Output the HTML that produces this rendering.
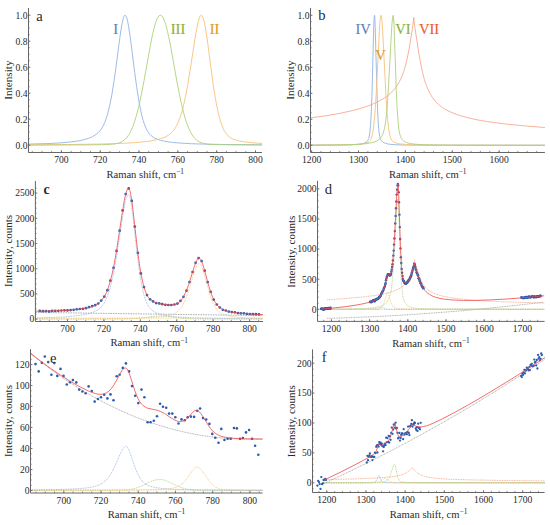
<!DOCTYPE html>
<html><head><meta charset="utf-8"><style>
html,body{margin:0;padding:0;background:#fff;}
body{width:550px;height:525px;overflow:hidden;}
svg{display:block;font-family:"Liberation Serif", serif;}
.t{fill:#2a2a2a;stroke:#2a2a2a;stroke-width:0px;}
.c{stroke-width:0.12px;}
</style></head><body>
<svg width="550" height="525" viewBox="0 0 550 525">
<rect width="550" height="525" fill="#fff"/>
<path d="M28.5,144.1L46.3,143.6L60.3,142.9L71.1,141.9L75.8,141.3L80.0,140.6L83.7,139.7L87.0,138.8L89.8,137.8L92.6,136.6L94.9,135.2L96.8,133.9L98.7,132.2L100.6,130.0L102.0,127.9L103.4,125.4L104.8,122.3L105.7,119.9L107.1,115.7L108.0,112.4L109.9,104.6L111.8,95.1L114.1,80.6L116.0,67.2L119.7,38.5L121.6,26.0L122.6,21.1L123.5,17.6L124.0,16.4L124.4,15.6L124.9,15.2L125.4,15.3L125.8,15.8L126.8,17.9L127.7,21.5L128.6,26.4L130.5,39.1L134.7,72.5L136.6,86.3L138.9,101.2L140.8,110.9L141.7,115.0L143.1,120.3L144.1,123.3L145.5,127.0L146.9,130.0L148.3,132.3L149.7,134.2L151.1,135.6L153.0,137.1L154.8,138.2L157.2,139.2L160.5,140.3L163.7,141.0L167.9,141.8L172.6,142.4L177.8,142.9L190.4,143.7L207.3,144.2L230.2,144.6L262.0,144.8" fill="none" stroke="#93b3e3" stroke-width="0.9" stroke-opacity="1.0"/>
<path d="M28.5,144.8L68.7,144.5L97.3,144.1L118.3,143.5L134.3,142.7L140.8,142.1L146.9,141.5L152.0,140.7L156.7,139.7L160.9,138.6L164.2,137.4L167.0,136.1L169.3,134.5L171.7,132.5L173.6,130.4L175.4,127.7L176.8,125.2L178.2,122.3L179.6,118.7L181.0,114.6L182.5,109.7L184.8,100.0L187.6,85.6L189.9,71.6L195.1,37.9L197.0,27.3L198.4,21.0L199.3,18.0L200.2,16.0L200.7,15.5L201.2,15.2L201.6,15.3L202.1,15.7L203.0,17.6L204.0,20.8L205.4,27.8L207.3,40.0L213.3,85.3L215.2,97.3L216.6,105.1L218.0,111.8L219.9,119.3L221.3,123.8L223.2,128.5L224.1,130.4L225.5,132.7L226.4,134.0L227.8,135.6L229.2,136.8L230.6,137.8L232.1,138.6L233.9,139.4L236.3,140.2L238.6,140.8L244.7,141.9L252.6,142.8L262.0,143.5" fill="none" stroke="#f7c27a" stroke-width="0.9" stroke-opacity="1.0"/>
<path d="M28.5,145.1L87.9,144.9L102.4,144.7L109.9,144.4L115.1,143.9L117.4,143.4L119.3,142.8L121.2,142.0L122.6,141.2L124.0,140.2L125.4,139.0L126.8,137.5L128.2,135.6L129.6,133.4L131.0,130.7L132.4,127.6L133.8,123.9L136.1,116.6L138.5,107.6L141.3,94.8L144.1,80.2L150.2,46.5L152.0,37.1L153.4,30.8L155.3,23.8L156.2,21.0L157.2,18.7L158.1,17.0L159.1,15.8L160.0,15.3L160.5,15.2L160.9,15.3L161.9,15.9L162.8,17.2L163.7,19.0L164.7,21.4L165.6,24.3L167.5,31.4L168.9,37.7L170.8,47.2L176.8,81.0L179.2,93.2L181.5,104.2L183.9,113.7L186.2,121.6L188.5,127.9L190.9,132.8L192.3,135.1L193.7,137.1L195.1,138.7L196.5,140.0L197.9,141.0L199.8,142.1L201.6,142.9L203.5,143.4L207.7,144.2L212.9,144.5L220.8,144.7L262.0,145.0" fill="none" stroke="#afd07a" stroke-width="0.9" stroke-opacity="1.0"/>
<path d="M28.50,8.00 V152.50 H262.00" fill="none" stroke="#666" stroke-width="1"/>
<path d="M32.28,152.50 v-1.6 M41.99,152.50 v-1.6 M51.70,152.50 v-1.6 M61.40,152.50 v-1.6 M71.11,152.50 v-1.6 M80.81,152.50 v-1.6 M90.52,152.50 v-1.6 M100.22,152.50 v-1.6 M109.92,152.50 v-1.6 M119.63,152.50 v-1.6 M129.34,152.50 v-1.6 M139.04,152.50 v-1.6 M148.75,152.50 v-1.6 M158.45,152.50 v-1.6 M168.16,152.50 v-1.6 M177.86,152.50 v-1.6 M187.56,152.50 v-1.6 M197.27,152.50 v-1.6 M206.98,152.50 v-1.6 M216.68,152.50 v-1.6 M226.39,152.50 v-1.6 M236.09,152.50 v-1.6 M245.80,152.50 v-1.6 M255.50,152.50 v-1.6 M61.40,152.50 v-2.4 M100.22,152.50 v-2.4 M139.04,152.50 v-2.4 M177.86,152.50 v-2.4 M216.68,152.50 v-2.4 M255.50,152.50 v-2.4 M28.50,145.20 h1.2 M28.50,138.70 h1.2 M28.50,132.20 h1.2 M28.50,125.70 h1.2 M28.50,119.20 h1.2 M28.50,112.70 h1.2 M28.50,106.20 h1.2 M28.50,99.70 h1.2 M28.50,93.20 h1.2 M28.50,86.70 h1.2 M28.50,80.20 h1.2 M28.50,73.70 h1.2 M28.50,67.20 h1.2 M28.50,60.70 h1.2 M28.50,54.20 h1.2 M28.50,47.70 h1.2 M28.50,41.20 h1.2 M28.50,34.70 h1.2 M28.50,28.20 h1.2 M28.50,21.70 h1.2 M28.50,15.20 h1.2 M28.50,145.20 h2.0 M28.50,119.20 h2.0 M28.50,93.20 h2.0 M28.50,67.20 h2.0 M28.50,41.20 h2.0 M28.50,15.20 h2.0" fill="none" stroke="#666" stroke-width="0.7"/>
<g class="t" font-size="9.6"><text x="61.40" y="163.10" text-anchor="middle">700</text><text x="100.22" y="163.10" text-anchor="middle">720</text><text x="139.04" y="163.10" text-anchor="middle">740</text><text x="177.86" y="163.10" text-anchor="middle">760</text><text x="216.68" y="163.10" text-anchor="middle">780</text><text x="255.50" y="163.10" text-anchor="middle">800</text><text x="27.50" y="148.50" text-anchor="end">0.0</text><text x="27.50" y="122.50" text-anchor="end">0.2</text><text x="27.50" y="96.50" text-anchor="end">0.4</text><text x="27.50" y="70.50" text-anchor="end">0.6</text><text x="27.50" y="44.50" text-anchor="end">0.8</text><text x="27.50" y="18.50" text-anchor="end">1.0</text></g>
<text class="c" x="115.80" y="33.80" font-size="14.6" fill="#5E81B5" stroke="#5E81B5" text-anchor="middle">I</text>
<text class="c" x="178.00" y="33.80" font-size="14.6" fill="#8FB032" stroke="#8FB032" text-anchor="middle">III</text>
<text class="c" x="214.60" y="33.80" font-size="14.6" fill="#E19C24" stroke="#E19C24" text-anchor="middle">II</text>
<text class="t" x="145.20" y="177.60" text-anchor="middle" font-size="10.6">Raman shift, cm<tspan dy="-3.8" font-size="7.4">−1</tspan></text>
<text class="t" transform="translate(11.80,80.10) rotate(-90)" text-anchor="middle" font-size="11.2">Intensity</text>
<text class="t" x="36.30" y="20.60" font-size="14.6">a</text>
<path d="M310.5,117.9L326.3,115.7L340.2,113.3L352.4,110.6L357.9,109.1L362.9,107.6L367.6,106.1L372.0,104.4L376.0,102.6L379.6,100.8L382.9,98.9L386.0,96.8L388.8,94.7L391.5,92.3L393.7,90.0L395.7,87.5L397.4,85.0L399.2,82.2L400.7,79.1L402.1,75.9L403.4,72.5L404.6,68.6L405.9,64.1L407.0,59.5L409.2,48.5L412.3,29.6L413.2,22.8L413.7,17.8L413.9,17.4L414.2,21.9L415.0,28.4L419.0,54.3L421.7,68.4L422.9,73.9L424.3,79.2L425.7,83.7L427.3,87.8L428.9,91.4L430.6,94.6L432.5,97.6L434.5,100.2L436.8,102.8L439.3,105.1L442.3,107.4L445.6,109.5L449.2,111.4L453.1,113.1L457.6,114.8L462.5,116.3L467.8,117.7L473.8,119.1L480.3,120.4L487.4,121.6L503.6,123.8L522.7,125.7L544.9,127.5" fill="none" stroke="#f7a88e" stroke-width="0.9" stroke-opacity="1.0"/>
<path d="M310.5,145.2L343.7,145.0L351.9,144.8L357.6,144.5L361.6,143.9L363.2,143.5L364.6,142.9L365.9,142.2L366.8,141.5L367.6,140.6L368.2,139.6L368.7,138.5L369.1,136.9L369.9,132.3L370.5,125.6L371.0,117.8L372.0,93.4L373.7,29.0L374.1,17.9L374.5,15.3L374.6,15.7L374.8,17.1L375.2,27.3L377.1,96.6L377.6,109.7L378.2,122.4L379.0,131.9L379.8,136.7L380.2,138.4L380.9,139.8L381.6,140.9L382.7,142.0L384.0,142.8L385.4,143.3L387.1,143.8L389.2,144.2L394.6,144.7L403.1,145.0L436.5,145.2L544.9,145.3" fill="none" stroke="#93b3e3" stroke-width="0.9" stroke-opacity="1.0"/>
<path d="M310.5,145.2L343.3,144.9L352.4,144.6L358.8,144.2L363.7,143.6L367.1,142.6L368.4,142.0L369.3,141.3L370.1,140.5L370.7,139.5L371.3,138.1L372.0,136.2L372.9,131.9L373.8,125.2L374.6,117.2L375.4,106.8L376.2,93.8L379.5,28.2L380.2,18.6L380.7,15.8L381.0,15.3L381.3,16.0L381.8,19.1L382.6,29.0L385.9,94.7L386.8,109.8L387.6,119.6L388.7,129.3L389.8,135.2L390.4,137.4L391.2,139.3L392.0,140.6L392.9,141.5L394.0,142.2L395.6,142.9L397.6,143.4L400.1,143.9L406.7,144.5L416.2,144.9L429.7,145.1L450.6,145.2L544.9,145.3" fill="none" stroke="#f7c27a" stroke-width="0.9" stroke-opacity="1.0"/>
<path d="M310.5,145.1L332.7,145.0L347.7,144.7L358.2,144.3L365.9,143.7L369.0,143.2L371.6,142.7L374.0,142.1L376.0,141.3L377.7,140.4L379.1,139.4L380.4,138.3L381.5,136.8L382.4,135.1L383.2,133.1L384.5,128.4L385.6,121.8L386.7,112.1L387.6,100.7L388.5,86.3L391.8,25.7L392.6,17.3L392.9,15.8L393.1,15.4L393.2,15.3L393.5,17.0L394.0,24.4L396.3,90.8L397.1,107.8L397.9,119.8L398.8,128.9L399.3,131.8L399.9,134.6L400.6,136.5L401.4,138.2L402.3,139.6L403.4,140.7L404.8,141.7L406.4,142.4L408.2,143.1L410.4,143.6L416.2,144.3L424.7,144.8L436.8,145.0L456.2,145.2L544.9,145.3" fill="none" stroke="#afd07a" stroke-width="0.9" stroke-opacity="1.0"/>
<path d="M310.50,7.90 V152.50 H544.90" fill="none" stroke="#666" stroke-width="1"/>
<path d="M311.63,152.50 v-1.6 M321.00,152.50 v-1.6 M330.38,152.50 v-1.6 M339.75,152.50 v-1.6 M349.13,152.50 v-1.6 M358.50,152.50 v-1.6 M367.87,152.50 v-1.6 M377.25,152.50 v-1.6 M386.62,152.50 v-1.6 M396.00,152.50 v-1.6 M405.37,152.50 v-1.6 M414.74,152.50 v-1.6 M424.12,152.50 v-1.6 M433.49,152.50 v-1.6 M442.87,152.50 v-1.6 M452.24,152.50 v-1.6 M461.61,152.50 v-1.6 M470.99,152.50 v-1.6 M480.36,152.50 v-1.6 M489.74,152.50 v-1.6 M499.11,152.50 v-1.6 M508.48,152.50 v-1.6 M517.86,152.50 v-1.6 M527.23,152.50 v-1.6 M536.61,152.50 v-1.6 M311.63,152.50 v-2.4 M358.50,152.50 v-2.4 M405.37,152.50 v-2.4 M452.24,152.50 v-2.4 M499.11,152.50 v-2.4 M310.50,145.30 h1.2 M310.50,138.80 h1.2 M310.50,132.30 h1.2 M310.50,125.80 h1.2 M310.50,119.30 h1.2 M310.50,112.80 h1.2 M310.50,106.30 h1.2 M310.50,99.80 h1.2 M310.50,93.30 h1.2 M310.50,86.80 h1.2 M310.50,80.30 h1.2 M310.50,73.80 h1.2 M310.50,67.30 h1.2 M310.50,60.80 h1.2 M310.50,54.30 h1.2 M310.50,47.80 h1.2 M310.50,41.30 h1.2 M310.50,34.80 h1.2 M310.50,28.30 h1.2 M310.50,21.80 h1.2 M310.50,15.30 h1.2 M310.50,145.30 h2.0 M310.50,119.30 h2.0 M310.50,93.30 h2.0 M310.50,67.30 h2.0 M310.50,41.30 h2.0 M310.50,15.30 h2.0" fill="none" stroke="#666" stroke-width="0.7"/>
<g class="t" font-size="9.6"><text x="311.63" y="163.10" text-anchor="middle">1200</text><text x="358.50" y="163.10" text-anchor="middle">1300</text><text x="405.37" y="163.10" text-anchor="middle">1400</text><text x="452.24" y="163.10" text-anchor="middle">1500</text><text x="499.11" y="163.10" text-anchor="middle">1600</text><text x="309.50" y="148.60" text-anchor="end">0.0</text><text x="309.50" y="122.60" text-anchor="end">0.2</text><text x="309.50" y="96.60" text-anchor="end">0.4</text><text x="309.50" y="70.60" text-anchor="end">0.6</text><text x="309.50" y="44.60" text-anchor="end">0.8</text><text x="309.50" y="18.60" text-anchor="end">1.0</text></g>
<text class="c" x="363.20" y="33.80" font-size="14.6" fill="#5E81B5" stroke="#5E81B5" text-anchor="middle">IV</text>
<text class="c" x="380.40" y="59.50" font-size="14.6" fill="#E19C24" stroke="#E19C24" text-anchor="middle">V</text>
<text class="c" x="403.00" y="33.80" font-size="14.6" fill="#8FB032" stroke="#8FB032" text-anchor="middle">VI</text>
<text class="c" x="429.10" y="33.80" font-size="14.6" fill="#F05A2C" stroke="#F05A2C" text-anchor="middle">VII</text>
<text class="t" x="427.70" y="177.90" text-anchor="middle" font-size="10.6">Raman shift, cm<tspan dy="-3.8" font-size="7.4">−1</tspan></text>
<text class="t" transform="translate(294.00,80.10) rotate(-90)" text-anchor="middle" font-size="11.2">Intensity</text>
<text class="t" x="318.20" y="20.30" font-size="14.6">b</text>
<path d="M35.4,312.4L263.0,315.6" fill="none" stroke="#9a9a9a" stroke-width="0.8" stroke-opacity="1.0" stroke-dasharray="1.6,0.9"/>
<path d="M35.4,319.1L113.9,319.1L127.5,319.0L133.0,318.7L137.6,318.4L142.6,317.8L153.5,316.3L157.2,316.0L160.4,315.9L163.6,316.0L167.2,316.3L178.2,317.8L182.7,318.4L191.8,318.9L205.1,319.1L263.0,319.1" fill="none" stroke="#afd07a" stroke-width="0.8" stroke-opacity="1.0" stroke-dasharray="1,0.7"/>
<path d="M35.4,318.1L263.0,318.1" fill="none" stroke="#e2d27a" stroke-width="0.8" stroke-opacity="1.0" stroke-dasharray="1,0.7"/>
<path d="M35.4,318.0L52.5,317.5L65.6,316.8L76.1,315.8L84.4,314.6L87.8,313.9L90.7,313.1L93.2,312.2L95.5,311.2L97.5,310.0L99.5,308.6L101.2,306.9L102.6,305.2L104.1,303.2L105.2,301.2L106.6,298.2L107.8,295.4L110.0,288.4L112.0,280.6L114.0,271.2L116.3,258.3L122.3,218.7L124.3,206.8L125.4,201.4L126.6,197.4L127.1,196.0L127.7,195.0L128.3,194.6L128.5,194.5L128.8,194.7L129.1,195.0L130.0,197.2L130.8,201.2L131.7,206.5L133.1,217.7L136.5,248.3L138.2,262.4L140.2,276.4L141.9,286.1L143.9,294.7L145.1,298.5L146.2,301.5L147.3,304.1L148.5,306.1L149.9,308.1L151.3,309.6L153.0,311.0L155.3,312.3L157.9,313.4L160.7,314.3L164.2,315.2L168.1,315.9L172.7,316.5L177.8,317.0L190.1,317.7L206.9,318.2L230.0,318.6L263.0,318.8" fill="none" stroke="#93b3e3" stroke-width="0.8" stroke-opacity="1.0" stroke-dasharray="1,0.7"/>
<path d="M35.4,319.0L103.2,318.7L123.7,318.5L138.8,318.1L150.8,317.6L159.9,316.9L166.7,316.0L169.3,315.4L171.6,314.8L173.6,314.0L175.3,313.1L176.7,312.2L178.1,311.0L179.5,309.6L180.7,308.2L182.1,306.2L183.2,304.2L185.5,299.4L187.8,293.4L189.8,287.3L194.1,273.0L195.8,268.2L196.6,266.2L197.5,264.8L198.3,263.9L199.2,263.6L200.0,264.0L200.9,265.1L201.8,266.8L202.6,269.1L204.0,273.7L208.9,291.3L210.6,296.7L212.3,301.2L213.7,304.3L215.4,307.4L217.1,309.8L219.1,311.8L221.4,313.4L224.3,314.8L227.4,315.7L231.7,316.5L237.1,317.2L243.9,317.7L252.5,318.1L263.0,318.4" fill="none" stroke="#f7c27a" stroke-width="0.8" stroke-opacity="1.0" stroke-dasharray="1,0.7"/>
<g fill="#2a5db0"><circle cx="39.8" cy="310.9" r="1.35"/><circle cx="42.9" cy="311.2" r="1.35"/><circle cx="46.0" cy="311.1" r="1.35"/><circle cx="49.1" cy="311.4" r="1.35"/><circle cx="52.1" cy="310.9" r="1.35"/><circle cx="55.2" cy="310.9" r="1.35"/><circle cx="58.3" cy="310.8" r="1.35"/><circle cx="61.4" cy="310.5" r="1.35"/><circle cx="64.4" cy="310.3" r="1.35"/><circle cx="67.5" cy="310.4" r="1.35"/><circle cx="70.6" cy="310.1" r="1.35"/><circle cx="73.7" cy="309.8" r="1.35"/><circle cx="76.7" cy="309.3" r="1.35"/><circle cx="79.8" cy="309.0" r="1.35"/><circle cx="82.9" cy="308.8" r="1.35"/><circle cx="85.9" cy="308.2" r="1.35"/><circle cx="89.0" cy="307.2" r="1.35"/><circle cx="92.1" cy="306.2" r="1.35"/><circle cx="95.1" cy="305.2" r="1.35"/><circle cx="98.2" cy="303.5" r="1.35"/><circle cx="101.2" cy="300.6" r="1.35"/><circle cx="104.3" cy="296.7" r="1.35"/><circle cx="107.4" cy="290.2" r="1.35"/><circle cx="110.4" cy="280.7" r="1.35"/><circle cx="113.5" cy="267.8" r="1.35"/><circle cx="116.5" cy="250.9" r="1.35"/><circle cx="119.6" cy="230.7" r="1.35"/><circle cx="122.6" cy="210.4" r="1.35"/><circle cx="125.7" cy="194.1" r="1.35"/><circle cx="128.7" cy="188.4" r="1.35"/><circle cx="131.8" cy="200.9" r="1.35"/><circle cx="134.8" cy="226.6" r="1.35"/><circle cx="137.9" cy="252.8" r="1.35"/><circle cx="140.9" cy="273.4" r="1.35"/><circle cx="144.0" cy="287.1" r="1.35"/><circle cx="147.0" cy="295.1" r="1.35"/><circle cx="150.1" cy="299.3" r="1.35"/><circle cx="153.1" cy="301.4" r="1.35"/><circle cx="156.1" cy="303.1" r="1.35"/><circle cx="159.2" cy="303.4" r="1.35"/><circle cx="162.2" cy="304.2" r="1.35"/><circle cx="165.3" cy="304.8" r="1.35"/><circle cx="168.3" cy="305.0" r="1.35"/><circle cx="171.3" cy="305.0" r="1.35"/><circle cx="174.4" cy="304.5" r="1.35"/><circle cx="177.4" cy="303.6" r="1.35"/><circle cx="180.4" cy="300.9" r="1.35"/><circle cx="183.5" cy="296.8" r="1.35"/><circle cx="186.5" cy="290.7" r="1.35"/><circle cx="189.5" cy="282.1" r="1.35"/><circle cx="192.6" cy="272.0" r="1.35"/><circle cx="195.6" cy="262.8" r="1.35"/><circle cx="198.6" cy="258.1" r="1.35"/><circle cx="201.6" cy="261.1" r="1.35"/><circle cx="204.7" cy="270.7" r="1.35"/><circle cx="207.7" cy="282.1" r="1.35"/><circle cx="210.7" cy="291.8" r="1.35"/><circle cx="213.7" cy="299.6" r="1.35"/><circle cx="216.8" cy="304.5" r="1.35"/><circle cx="219.8" cy="307.5" r="1.35"/><circle cx="222.8" cy="309.8" r="1.35"/><circle cx="225.8" cy="310.5" r="1.35"/><circle cx="228.8" cy="311.6" r="1.35"/><circle cx="231.8" cy="312.1" r="1.35"/><circle cx="234.9" cy="312.3" r="1.35"/><circle cx="237.9" cy="313.1" r="1.35"/><circle cx="240.9" cy="313.3" r="1.35"/><circle cx="243.9" cy="313.3" r="1.35"/><circle cx="246.9" cy="313.9" r="1.35"/><circle cx="249.9" cy="314.0" r="1.35"/><circle cx="252.9" cy="314.1" r="1.35"/><circle cx="255.9" cy="314.2" r="1.35"/><circle cx="258.9" cy="314.3" r="1.35"/></g>
<path d="M35.4,311.2L52.2,310.9L65.3,310.4L75.8,309.5L84.1,308.4L87.5,307.7L90.7,306.9L93.2,306.0L95.5,305.0L97.5,303.9L99.5,302.4L101.2,300.8L102.6,299.1L104.1,297.1L105.2,295.1L106.6,292.1L107.8,289.3L110.0,282.3L112.0,274.5L114.0,265.1L116.3,252.3L122.3,212.6L124.3,200.7L125.4,195.2L126.6,191.2L127.1,189.8L127.7,188.8L128.3,188.3L128.5,188.3L128.8,188.4L129.1,188.7L130.0,190.9L130.8,194.8L131.7,200.1L133.1,211.2L137.9,253.3L139.9,267.5L141.7,277.2L143.4,284.8L144.2,287.9L145.4,291.3L146.5,294.0L147.6,296.2L148.8,297.9L150.2,299.5L151.3,300.5L152.8,301.4L154.5,302.2L156.2,302.8L161.3,304.0L167.6,304.9L171.3,305.0L174.4,304.6L175.8,304.2L177.0,303.7L179.3,302.1L181.0,300.4L182.4,298.5L184.1,295.7L185.5,292.7L186.9,289.3L188.7,284.6L193.8,268.1L195.5,263.2L196.6,260.6L197.5,259.2L198.3,258.4L199.2,258.1L200.0,258.5L200.9,259.7L201.8,261.4L202.6,263.8L204.0,268.5L208.9,286.3L210.6,291.7L212.3,296.2L213.7,299.4L215.4,302.5L217.1,305.0L219.1,307.1L221.4,308.8L224.3,310.2L227.4,311.2L231.7,312.1L237.4,312.9L244.2,313.6L252.7,314.1L263.0,314.6" fill="none" stroke="#f04848" stroke-width="1.0" stroke-opacity="0.8"/>
<path d="M35.40,181.00 V321.50 H263.00" fill="none" stroke="#666" stroke-width="1"/>
<path d="M40.19,321.50 v-1.6 M49.29,321.50 v-1.6 M58.39,321.50 v-1.6 M67.50,321.50 v-1.6 M76.61,321.50 v-1.6 M85.71,321.50 v-1.6 M94.81,321.50 v-1.6 M103.92,321.50 v-1.6 M113.03,321.50 v-1.6 M122.13,321.50 v-1.6 M131.24,321.50 v-1.6 M140.34,321.50 v-1.6 M149.44,321.50 v-1.6 M158.55,321.50 v-1.6 M167.66,321.50 v-1.6 M176.76,321.50 v-1.6 M185.87,321.50 v-1.6 M194.97,321.50 v-1.6 M204.07,321.50 v-1.6 M213.18,321.50 v-1.6 M222.28,321.50 v-1.6 M231.39,321.50 v-1.6 M240.50,321.50 v-1.6 M249.60,321.50 v-1.6 M258.70,321.50 v-1.6 M67.50,321.50 v-2.4 M103.92,321.50 v-2.4 M140.34,321.50 v-2.4 M176.76,321.50 v-2.4 M213.18,321.50 v-2.4 M249.60,321.50 v-2.4 M35.40,319.10 h1.2 M35.40,314.06 h1.2 M35.40,309.02 h1.2 M35.40,303.98 h1.2 M35.40,298.94 h1.2 M35.40,293.90 h1.2 M35.40,288.86 h1.2 M35.40,283.82 h1.2 M35.40,278.78 h1.2 M35.40,273.74 h1.2 M35.40,268.70 h1.2 M35.40,263.66 h1.2 M35.40,258.62 h1.2 M35.40,253.58 h1.2 M35.40,248.54 h1.2 M35.40,243.50 h1.2 M35.40,238.46 h1.2 M35.40,233.42 h1.2 M35.40,228.38 h1.2 M35.40,223.34 h1.2 M35.40,218.30 h1.2 M35.40,213.26 h1.2 M35.40,208.22 h1.2 M35.40,203.18 h1.2 M35.40,198.14 h1.2 M35.40,193.10 h1.2 M35.40,188.06 h1.2 M35.40,319.10 h2.0 M35.40,293.90 h2.0 M35.40,268.70 h2.0 M35.40,243.50 h2.0 M35.40,218.30 h2.0 M35.40,193.10 h2.0" fill="none" stroke="#666" stroke-width="0.7"/>
<g class="t" font-size="9.6"><text x="67.50" y="332.10" text-anchor="middle">700</text><text x="103.92" y="332.10" text-anchor="middle">720</text><text x="140.34" y="332.10" text-anchor="middle">740</text><text x="176.76" y="332.10" text-anchor="middle">760</text><text x="213.18" y="332.10" text-anchor="middle">780</text><text x="249.60" y="332.10" text-anchor="middle">800</text><text x="34.40" y="322.40" text-anchor="end">0</text><text x="34.40" y="297.20" text-anchor="end">500</text><text x="34.40" y="272.00" text-anchor="end">1000</text><text x="34.40" y="246.80" text-anchor="end">1500</text><text x="34.40" y="221.60" text-anchor="end">2000</text><text x="34.40" y="196.40" text-anchor="end">2500</text></g>
<text class="t" x="149.20" y="346.30" text-anchor="middle" font-size="10.6">Raman shift, cm<tspan dy="-3.8" font-size="7.4">−1</tspan></text>
<text class="t" transform="translate(11.80,250.90) rotate(-90)" text-anchor="middle" font-size="11.0">Intensity, counts</text>
<text class="t" x="43.60" y="194.00" font-size="13.8" font-weight="bold">c</text>
<path d="M327.2,318.4L354.2,317.5L381.6,316.3L408.9,314.7L435.9,312.8L462.9,310.7L489.8,308.1L516.8,305.3L544.2,302.1" fill="none" stroke="#9a9a9a" stroke-width="0.8" stroke-opacity="1.0" stroke-dasharray="1,0.7"/>
<path d="M321.1,309.3L544.2,309.3" fill="none" stroke="#e2d27a" stroke-width="0.8" stroke-opacity="1.0" stroke-dasharray="1,0.7"/>
<path d="M327.2,309.3L377.3,309.2L378.7,309.1L379.6,308.9L380.5,308.4L381.8,307.4L382.3,307.2L382.9,307.3L384.5,308.5L385.5,309.0L386.8,309.2L389.4,309.3L544.2,309.3" fill="none" stroke="#93b3e3" stroke-width="0.8" stroke-opacity="1.0" stroke-dasharray="1,0.7"/>
<path d="M327.2,309.3L354.3,309.2L367.4,309.0L374.7,308.7L377.1,308.4L379.0,308.0L380.3,307.5L381.5,306.8L382.3,306.0L383.2,304.7L383.9,303.2L384.7,301.2L386.7,293.9L387.1,292.9L387.6,292.6L388.0,292.9L388.4,293.9L390.2,300.2L391.0,302.8L391.8,304.4L392.5,305.6L393.6,306.8L394.9,307.6L396.8,308.2L399.6,308.6L407.4,309.0L422.7,309.2L544.2,309.3" fill="none" stroke="#f7c27a" stroke-width="0.8" stroke-opacity="1.0" stroke-dasharray="1,0.7"/>
<path d="M327.2,309.1L345.9,308.9L358.5,308.7L367.4,308.3L374.0,307.7L378.9,306.7L380.9,306.1L382.6,305.4L384.2,304.5L385.5,303.5L386.7,302.4L387.7,301.0L388.6,299.4L389.3,297.6L390.5,293.5L391.5,287.8L392.5,279.3L393.3,269.2L394.1,258.5L396.8,207.8L397.4,201.0L397.7,199.2L398.0,198.6L398.3,200.4L398.7,208.9L400.7,269.0L401.3,280.2L401.9,288.1L402.8,295.4L403.2,297.8L403.8,300.0L404.5,301.9L405.2,303.2L406.2,304.5L407.4,305.6L408.7,306.4L410.1,307.0L411.9,307.5L413.9,308.0L419.3,308.5L427.4,308.9L457.5,309.2L544.2,309.3" fill="none" stroke="#afd07a" stroke-width="0.8" stroke-opacity="1.0" stroke-dasharray="1,0.7"/>
<path d="M327.2,299.7L340.9,298.9L353.0,297.9L363.7,296.9L372.8,295.8L380.6,294.5L387.1,293.1L392.6,291.5L397.1,289.7L400.4,288.0L403.2,285.9L405.6,283.4L407.6,280.6L409.3,277.1L410.8,273.0L413.0,265.6L413.9,262.2L414.3,260.0L414.5,259.5L414.9,262.0L415.6,264.4L419.1,275.2L421.2,280.6L423.4,284.5L424.7,286.4L426.0,287.9L427.5,289.4L429.1,290.6L430.8,291.7L432.8,292.8L434.9,293.7L437.3,294.6L443.4,296.3L451.0,297.7L460.3,298.9L471.6,300.0L485.3,300.9L501.8,301.7L521.4,302.4L544.2,303.1" fill="none" stroke="#f7a88e" stroke-width="0.9" stroke-opacity="1.0" stroke-dasharray="1,0.7"/>
<g fill="#2a5db0"><circle cx="321.1" cy="308.9" r="1.2"/><circle cx="321.5" cy="308.5" r="1.2"/><circle cx="321.8" cy="308.6" r="1.2"/><circle cx="322.2" cy="308.8" r="1.2"/><circle cx="322.6" cy="309.2" r="1.2"/><circle cx="323.0" cy="309.2" r="1.2"/><circle cx="323.4" cy="309.6" r="1.2"/><circle cx="323.8" cy="308.6" r="1.2"/><circle cx="324.1" cy="309.5" r="1.2"/><circle cx="324.5" cy="308.5" r="1.2"/><circle cx="324.9" cy="308.1" r="1.2"/><circle cx="325.3" cy="309.1" r="1.2"/><circle cx="325.7" cy="308.9" r="1.2"/><circle cx="326.1" cy="308.8" r="1.2"/><circle cx="326.4" cy="308.3" r="1.2"/><circle cx="326.8" cy="308.9" r="1.2"/><circle cx="327.2" cy="308.6" r="1.2"/><circle cx="327.6" cy="308.7" r="1.2"/><circle cx="328.0" cy="308.6" r="1.2"/><circle cx="328.3" cy="308.0" r="1.2"/><circle cx="328.7" cy="308.8" r="1.2"/><circle cx="329.1" cy="308.4" r="1.2"/><circle cx="329.5" cy="308.3" r="1.2"/><circle cx="329.9" cy="308.0" r="1.2"/><circle cx="330.3" cy="308.7" r="1.2"/><circle cx="330.6" cy="307.8" r="1.2"/><circle cx="370.0" cy="302.0" r="1.2"/><circle cx="370.4" cy="301.7" r="1.2"/><circle cx="370.7" cy="301.8" r="1.2"/><circle cx="371.1" cy="302.3" r="1.2"/><circle cx="371.5" cy="301.9" r="1.2"/><circle cx="371.9" cy="301.2" r="1.2"/><circle cx="372.3" cy="301.3" r="1.2"/><circle cx="372.7" cy="301.2" r="1.2"/><circle cx="373.0" cy="300.4" r="1.2"/><circle cx="373.4" cy="300.1" r="1.2"/><circle cx="373.8" cy="300.8" r="1.2"/><circle cx="374.2" cy="299.9" r="1.2"/><circle cx="374.6" cy="301.2" r="1.2"/><circle cx="374.9" cy="301.0" r="1.2"/><circle cx="375.3" cy="299.8" r="1.2"/><circle cx="375.7" cy="300.0" r="1.2"/><circle cx="376.1" cy="299.5" r="1.2"/><circle cx="376.5" cy="299.3" r="1.2"/><circle cx="376.9" cy="299.3" r="1.2"/><circle cx="377.2" cy="298.8" r="1.2"/><circle cx="377.6" cy="298.8" r="1.2"/><circle cx="378.0" cy="299.1" r="1.2"/><circle cx="378.4" cy="298.2" r="1.2"/><circle cx="378.8" cy="297.9" r="1.2"/><circle cx="379.1" cy="296.9" r="1.2"/><circle cx="379.5" cy="297.6" r="1.2"/><circle cx="379.9" cy="296.6" r="1.2"/><circle cx="380.3" cy="296.2" r="1.2"/><circle cx="380.7" cy="295.4" r="1.2"/><circle cx="381.1" cy="294.0" r="1.2"/><circle cx="381.4" cy="293.7" r="1.2"/><circle cx="381.8" cy="293.1" r="1.2"/><circle cx="382.2" cy="292.1" r="1.2"/><circle cx="382.6" cy="291.2" r="1.2"/><circle cx="383.0" cy="291.1" r="1.2"/><circle cx="383.4" cy="290.1" r="1.2"/><circle cx="383.7" cy="288.7" r="1.2"/><circle cx="384.1" cy="288.0" r="1.2"/><circle cx="384.5" cy="287.1" r="1.2"/><circle cx="384.9" cy="285.9" r="1.2"/><circle cx="385.3" cy="284.2" r="1.2"/><circle cx="385.6" cy="283.0" r="1.2"/><circle cx="386.0" cy="280.2" r="1.2"/><circle cx="386.4" cy="278.6" r="1.2"/><circle cx="386.8" cy="277.0" r="1.2"/><circle cx="387.2" cy="276.1" r="1.2"/><circle cx="387.6" cy="275.0" r="1.2"/><circle cx="387.9" cy="274.1" r="1.2"/><circle cx="388.3" cy="274.2" r="1.2"/><circle cx="388.7" cy="274.7" r="1.2"/><circle cx="389.1" cy="274.7" r="1.2"/><circle cx="389.5" cy="274.8" r="1.2"/><circle cx="389.8" cy="275.5" r="1.2"/><circle cx="390.2" cy="275.2" r="1.2"/><circle cx="390.6" cy="274.7" r="1.2"/><circle cx="391.0" cy="273.8" r="1.2"/><circle cx="391.4" cy="271.5" r="1.2"/><circle cx="391.8" cy="269.6" r="1.2"/><circle cx="392.1" cy="267.0" r="1.2"/><circle cx="392.5" cy="264.3" r="1.2"/><circle cx="392.9" cy="260.4" r="1.2"/><circle cx="393.3" cy="255.6" r="1.2"/><circle cx="393.7" cy="250.6" r="1.2"/><circle cx="394.0" cy="244.6" r="1.2"/><circle cx="394.4" cy="238.5" r="1.2"/><circle cx="394.8" cy="231.1" r="1.2"/><circle cx="395.2" cy="223.4" r="1.2"/><circle cx="395.6" cy="215.9" r="1.2"/><circle cx="396.0" cy="208.2" r="1.2"/><circle cx="396.3" cy="201.5" r="1.2"/><circle cx="396.7" cy="194.6" r="1.2"/><circle cx="397.1" cy="189.6" r="1.2"/><circle cx="397.5" cy="185.4" r="1.2"/><circle cx="397.9" cy="184.0" r="1.2"/><circle cx="398.2" cy="185.4" r="1.2"/><circle cx="398.6" cy="192.3" r="1.2"/><circle cx="399.0" cy="202.3" r="1.2"/><circle cx="399.4" cy="214.7" r="1.2"/><circle cx="399.8" cy="227.1" r="1.2"/><circle cx="400.2" cy="239.0" r="1.2"/><circle cx="400.5" cy="248.4" r="1.2"/><circle cx="400.9" cy="257.3" r="1.2"/><circle cx="401.3" cy="263.0" r="1.2"/><circle cx="401.7" cy="268.9" r="1.2"/><circle cx="402.1" cy="272.8" r="1.2"/><circle cx="402.5" cy="276.0" r="1.2"/><circle cx="402.8" cy="278.7" r="1.2"/><circle cx="403.2" cy="280.3" r="1.2"/><circle cx="403.6" cy="281.0" r="1.2"/><circle cx="404.0" cy="281.3" r="1.2"/><circle cx="404.4" cy="282.8" r="1.2"/><circle cx="404.7" cy="283.1" r="1.2"/><circle cx="405.1" cy="283.1" r="1.2"/><circle cx="405.5" cy="283.8" r="1.2"/><circle cx="405.9" cy="283.8" r="1.2"/><circle cx="406.3" cy="283.3" r="1.2"/><circle cx="406.7" cy="283.0" r="1.2"/><circle cx="407.0" cy="282.8" r="1.2"/><circle cx="407.4" cy="281.8" r="1.2"/><circle cx="407.8" cy="282.0" r="1.2"/><circle cx="408.2" cy="281.3" r="1.2"/><circle cx="408.6" cy="280.3" r="1.2"/><circle cx="408.9" cy="279.7" r="1.2"/><circle cx="409.3" cy="280.1" r="1.2"/><circle cx="409.7" cy="278.9" r="1.2"/><circle cx="410.1" cy="277.5" r="1.2"/><circle cx="410.5" cy="277.4" r="1.2"/><circle cx="410.9" cy="276.2" r="1.2"/><circle cx="411.2" cy="275.3" r="1.2"/><circle cx="411.6" cy="274.1" r="1.2"/><circle cx="412.0" cy="272.8" r="1.2"/><circle cx="412.4" cy="271.1" r="1.2"/><circle cx="412.8" cy="269.4" r="1.2"/><circle cx="413.1" cy="268.0" r="1.2"/><circle cx="413.5" cy="267.1" r="1.2"/><circle cx="413.9" cy="266.3" r="1.2"/><circle cx="414.3" cy="263.6" r="1.2"/><circle cx="414.7" cy="264.5" r="1.2"/><circle cx="415.1" cy="266.1" r="1.2"/><circle cx="415.4" cy="267.7" r="1.2"/><circle cx="415.8" cy="269.6" r="1.2"/><circle cx="416.2" cy="270.0" r="1.2"/><circle cx="416.6" cy="272.2" r="1.2"/><circle cx="417.0" cy="272.9" r="1.2"/><circle cx="417.3" cy="273.8" r="1.2"/><circle cx="417.7" cy="275.0" r="1.2"/><circle cx="418.1" cy="275.7" r="1.2"/><circle cx="418.5" cy="278.3" r="1.2"/><circle cx="418.9" cy="278.4" r="1.2"/><circle cx="419.3" cy="279.3" r="1.2"/><circle cx="419.6" cy="280.7" r="1.2"/><circle cx="420.0" cy="281.4" r="1.2"/><circle cx="420.4" cy="282.9" r="1.2"/><circle cx="420.8" cy="283.2" r="1.2"/><circle cx="421.2" cy="284.1" r="1.2"/><circle cx="421.6" cy="285.4" r="1.2"/><circle cx="421.9" cy="286.1" r="1.2"/><circle cx="422.3" cy="286.6" r="1.2"/><circle cx="422.7" cy="287.5" r="1.2"/><circle cx="423.1" cy="287.5" r="1.2"/><circle cx="423.5" cy="288.4" r="1.2"/><circle cx="521.3" cy="297.4" r="1.2"/><circle cx="521.6" cy="297.5" r="1.2"/><circle cx="522.0" cy="297.8" r="1.2"/><circle cx="522.4" cy="297.9" r="1.2"/><circle cx="522.8" cy="298.1" r="1.2"/><circle cx="523.2" cy="298.0" r="1.2"/><circle cx="523.5" cy="298.0" r="1.2"/><circle cx="523.9" cy="297.6" r="1.2"/><circle cx="524.3" cy="298.0" r="1.2"/><circle cx="524.7" cy="297.6" r="1.2"/><circle cx="525.1" cy="297.5" r="1.2"/><circle cx="525.5" cy="297.7" r="1.2"/><circle cx="525.8" cy="297.6" r="1.2"/><circle cx="526.2" cy="297.0" r="1.2"/><circle cx="526.6" cy="296.9" r="1.2"/><circle cx="527.0" cy="297.7" r="1.2"/><circle cx="527.4" cy="297.5" r="1.2"/><circle cx="527.7" cy="297.5" r="1.2"/><circle cx="528.1" cy="297.4" r="1.2"/><circle cx="528.5" cy="296.7" r="1.2"/><circle cx="528.9" cy="297.0" r="1.2"/><circle cx="529.3" cy="296.8" r="1.2"/><circle cx="529.7" cy="296.6" r="1.2"/><circle cx="530.0" cy="297.3" r="1.2"/><circle cx="530.4" cy="297.2" r="1.2"/><circle cx="530.8" cy="297.1" r="1.2"/><circle cx="531.2" cy="296.7" r="1.2"/><circle cx="531.6" cy="297.1" r="1.2"/><circle cx="532.0" cy="296.8" r="1.2"/><circle cx="532.3" cy="296.5" r="1.2"/><circle cx="532.7" cy="296.5" r="1.2"/><circle cx="533.1" cy="296.7" r="1.2"/><circle cx="533.5" cy="297.1" r="1.2"/><circle cx="533.9" cy="297.4" r="1.2"/><circle cx="534.2" cy="296.4" r="1.2"/><circle cx="534.6" cy="296.6" r="1.2"/><circle cx="535.0" cy="297.1" r="1.2"/><circle cx="535.4" cy="296.9" r="1.2"/><circle cx="535.8" cy="296.8" r="1.2"/><circle cx="536.2" cy="297.2" r="1.2"/><circle cx="536.5" cy="296.5" r="1.2"/><circle cx="536.9" cy="296.8" r="1.2"/><circle cx="537.3" cy="296.6" r="1.2"/><circle cx="537.7" cy="296.2" r="1.2"/><circle cx="538.1" cy="296.5" r="1.2"/><circle cx="538.4" cy="296.2" r="1.2"/><circle cx="538.8" cy="296.2" r="1.2"/><circle cx="539.2" cy="296.3" r="1.2"/><circle cx="539.6" cy="296.3" r="1.2"/><circle cx="540.0" cy="295.6" r="1.2"/><circle cx="540.4" cy="296.3" r="1.2"/><circle cx="540.7" cy="295.6" r="1.2"/></g>
<path d="M321.1,309.1L334.3,307.9L346.1,306.6L356.1,305.1L364.1,303.6L370.3,302.0L372.9,301.1L375.1,300.2L376.9,299.3L378.4,298.3L379.4,297.3L380.3,296.0L383.4,289.9L384.2,288.1L385.1,284.9L386.9,276.7L387.5,274.9L387.8,274.4L388.2,274.2L389.5,275.2L390.0,275.2L390.3,274.9L390.7,274.1L391.0,273.2L391.8,269.6L392.8,260.9L393.9,247.6L397.0,191.0L397.6,185.0L397.9,183.9L398.0,183.8L398.3,186.2L398.6,191.8L400.4,245.2L401.5,265.7L402.0,272.7L402.8,277.9L403.2,279.9L403.7,281.2L404.3,282.3L404.9,282.9L405.3,283.1L405.9,283.2L406.5,283.0L407.1,282.6L408.4,281.1L409.6,278.9L411.0,275.6L412.5,270.9L413.8,266.1L414.4,262.7L414.8,265.3L415.4,267.6L419.0,278.9L421.2,284.4L422.3,286.5L423.5,288.5L424.8,290.3L426.2,291.8L427.6,293.1L429.3,294.3L431.1,295.4L433.2,296.4L435.4,297.2L437.9,297.9L441.0,298.6L444.6,299.2L453.1,300.0L463.5,300.4L475.9,300.4L490.4,299.9L507.0,299.0L525.0,297.6L544.2,295.8" fill="none" stroke="#f04848" stroke-width="1.0" stroke-opacity="0.8"/>
<path d="M317.50,180.80 V321.40 H544.60" fill="none" stroke="#666" stroke-width="1"/>
<path d="M323.76,321.40 v-1.6 M331.40,321.40 v-1.6 M339.04,321.40 v-1.6 M346.68,321.40 v-1.6 M354.32,321.40 v-1.6 M361.96,321.40 v-1.6 M369.60,321.40 v-1.6 M377.24,321.40 v-1.6 M384.88,321.40 v-1.6 M392.52,321.40 v-1.6 M400.16,321.40 v-1.6 M407.80,321.40 v-1.6 M415.44,321.40 v-1.6 M423.08,321.40 v-1.6 M430.72,321.40 v-1.6 M438.36,321.40 v-1.6 M446.00,321.40 v-1.6 M453.64,321.40 v-1.6 M461.28,321.40 v-1.6 M468.92,321.40 v-1.6 M476.56,321.40 v-1.6 M484.20,321.40 v-1.6 M491.84,321.40 v-1.6 M499.48,321.40 v-1.6 M507.12,321.40 v-1.6 M514.76,321.40 v-1.6 M522.40,321.40 v-1.6 M530.04,321.40 v-1.6 M537.68,321.40 v-1.6 M331.40,321.40 v-2.4 M369.60,321.40 v-2.4 M407.80,321.40 v-2.4 M446.00,321.40 v-2.4 M484.20,321.40 v-2.4 M522.40,321.40 v-2.4 M317.50,315.32 h1.2 M317.50,309.30 h1.2 M317.50,303.28 h1.2 M317.50,297.26 h1.2 M317.50,291.24 h1.2 M317.50,285.22 h1.2 M317.50,279.20 h1.2 M317.50,273.18 h1.2 M317.50,267.16 h1.2 M317.50,261.14 h1.2 M317.50,255.12 h1.2 M317.50,249.10 h1.2 M317.50,243.08 h1.2 M317.50,237.06 h1.2 M317.50,231.04 h1.2 M317.50,225.02 h1.2 M317.50,219.00 h1.2 M317.50,212.98 h1.2 M317.50,206.96 h1.2 M317.50,200.94 h1.2 M317.50,194.92 h1.2 M317.50,188.90 h1.2 M317.50,309.30 h2.0 M317.50,279.20 h2.0 M317.50,249.10 h2.0 M317.50,219.00 h2.0 M317.50,188.90 h2.0" fill="none" stroke="#666" stroke-width="0.7"/>
<g class="t" font-size="9.6"><text x="331.40" y="332.00" text-anchor="middle">1200</text><text x="369.60" y="332.00" text-anchor="middle">1300</text><text x="407.80" y="332.00" text-anchor="middle">1400</text><text x="446.00" y="332.00" text-anchor="middle">1500</text><text x="484.20" y="332.00" text-anchor="middle">1600</text><text x="522.40" y="332.00" text-anchor="middle">1700</text><text x="316.50" y="312.60" text-anchor="end">0</text><text x="316.50" y="282.50" text-anchor="end">500</text><text x="316.50" y="252.40" text-anchor="end">1000</text><text x="316.50" y="222.30" text-anchor="end">1500</text><text x="316.50" y="192.20" text-anchor="end">2000</text></g>
<text class="t" x="431.00" y="346.80" text-anchor="middle" font-size="10.6">Raman shift, cm<tspan dy="-3.8" font-size="7.4">−1</tspan></text>
<text class="t" transform="translate(294.80,251.70) rotate(-90)" text-anchor="middle" font-size="11.0">Intensity, counts</text>
<text class="t" x="324.80" y="193.60" font-size="14.6">d</text>
<path d="M30.5,489.9L262.6,489.9" fill="none" stroke="#e2d27a" stroke-width="0.8" stroke-opacity="1.0" stroke-dasharray="1,0.7"/>
<path d="M30.5,490.5L111.0,490.4L119.8,490.3L125.9,490.0L131.4,489.2L134.2,488.6L136.5,487.9L141.2,486.2L149.6,482.1L152.8,480.7L156.1,479.8L157.9,479.5L159.3,479.4L160.7,479.4L162.6,479.7L165.9,480.6L169.1,482.0L177.5,486.1L182.1,487.9L186.8,489.1L191.4,489.8L197.0,490.2L205.4,490.4L262.6,490.5" fill="none" stroke="#afd07a" stroke-width="0.8" stroke-opacity="1.0" stroke-dasharray="1,0.7"/>
<path d="M30.5,490.4L100.7,490.3L137.0,490.1L157.9,489.6L164.9,489.1L170.0,488.6L173.8,487.9L177.0,486.9L179.8,485.5L182.1,483.8L184.0,482.1L186.3,479.4L188.2,476.8L191.9,471.2L193.3,469.4L194.2,468.4L195.2,467.6L196.1,467.2L196.6,467.1L197.5,467.2L198.9,467.8L199.8,468.5L201.2,469.9L203.1,472.2L209.1,480.9L211.0,483.1L212.4,484.5L213.8,485.8L215.6,487.1L217.0,487.8L218.9,488.6L220.7,489.1L223.1,489.5L229.1,490.0L240.7,490.2L262.6,490.4" fill="none" stroke="#f7c27a" stroke-width="0.8" stroke-opacity="1.0" stroke-dasharray="1,0.7"/>
<path d="M30.5,490.0L60.3,489.5L71.0,489.1L79.3,488.6L85.9,488.0L91.4,487.2L95.6,486.2L99.3,484.9L102.1,483.4L104.9,481.3L107.2,478.9L109.6,475.9L111.4,472.9L113.8,468.5L116.1,463.5L120.3,453.8L122.1,450.1L123.1,448.6L124.0,447.5L124.9,446.7L125.9,446.4L126.3,446.4L126.8,446.7L127.2,447.1L127.7,447.7L128.6,449.3L130.0,452.8L133.8,463.9L135.6,469.1L137.5,473.4L139.8,477.8L142.1,480.9L144.5,483.2L145.9,484.2L147.2,485.0L150.5,486.4L155.2,487.5L161.2,488.4L169.1,489.1L178.9,489.5L191.4,489.9L208.2,490.1L262.6,490.4" fill="none" stroke="#93b3e3" stroke-width="0.8" stroke-opacity="1.0" stroke-dasharray="1,0.7"/>
<path d="M30.5,353.8L44.5,364.7L58.4,374.8L65.4,379.6L72.4,384.1L79.3,388.5L86.8,393.0L93.8,397.0L100.7,400.8L107.7,404.4L115.2,408.0L122.1,411.3L129.6,414.5L136.5,417.4L144.0,420.2L151.0,422.7L158.4,425.1L165.4,427.2L172.8,429.3L179.8,431.0L187.2,432.7L194.7,434.2L202.1,435.5L209.1,436.5L216.6,437.5L223.5,438.1L231.0,438.7L244.0,439.2L262.6,439.3" fill="none" stroke="#9a9a9a" stroke-width="0.8" stroke-opacity="1.0" stroke-dasharray="1,0.7"/>
<g fill="#2a5db0"><circle cx="35.50" cy="364.10" r="1.3"/><circle cx="38.70" cy="371.40" r="1.3"/><circle cx="41.90" cy="362.70" r="1.3"/><circle cx="44.80" cy="356.50" r="1.3"/><circle cx="48.20" cy="362.10" r="1.3"/><circle cx="51.40" cy="374.70" r="1.3"/><circle cx="54.30" cy="363.10" r="1.3"/><circle cx="57.30" cy="375.90" r="1.3"/><circle cx="60.50" cy="368.90" r="1.3"/><circle cx="63.50" cy="375.90" r="1.3"/><circle cx="66.80" cy="384.50" r="1.3"/><circle cx="70.00" cy="382.30" r="1.3"/><circle cx="72.90" cy="380.10" r="1.3"/><circle cx="76.30" cy="382.40" r="1.3"/><circle cx="79.20" cy="389.60" r="1.3"/><circle cx="82.40" cy="391.50" r="1.3"/><circle cx="85.60" cy="393.30" r="1.3"/><circle cx="88.60" cy="386.40" r="1.3"/><circle cx="91.80" cy="391.00" r="1.3"/><circle cx="94.70" cy="401.60" r="1.3"/><circle cx="97.90" cy="399.00" r="1.3"/><circle cx="101.00" cy="397.30" r="1.3"/><circle cx="104.20" cy="394.70" r="1.3"/><circle cx="107.40" cy="398.40" r="1.3"/><circle cx="110.50" cy="394.40" r="1.3"/><circle cx="113.50" cy="400.20" r="1.3"/><circle cx="116.70" cy="376.20" r="1.3"/><circle cx="119.60" cy="374.70" r="1.3"/><circle cx="122.80" cy="367.90" r="1.3"/><circle cx="125.90" cy="363.40" r="1.3"/><circle cx="129.10" cy="371.40" r="1.3"/><circle cx="132.00" cy="386.10" r="1.3"/><circle cx="135.20" cy="395.80" r="1.3"/><circle cx="138.30" cy="403.10" r="1.3"/><circle cx="141.50" cy="389.60" r="1.3"/><circle cx="144.40" cy="397.30" r="1.3"/><circle cx="147.60" cy="422.30" r="1.3"/><circle cx="150.60" cy="422.30" r="1.3"/><circle cx="153.80" cy="420.80" r="1.3"/><circle cx="157.00" cy="416.20" r="1.3"/><circle cx="160.10" cy="403.80" r="1.3"/><circle cx="163.00" cy="406.70" r="1.3"/><circle cx="166.20" cy="407.70" r="1.3"/><circle cx="169.10" cy="413.60" r="1.3"/><circle cx="172.30" cy="413.60" r="1.3"/><circle cx="175.30" cy="417.20" r="1.3"/><circle cx="178.50" cy="423.50" r="1.3"/><circle cx="181.50" cy="419.40" r="1.3"/><circle cx="184.70" cy="420.30" r="1.3"/><circle cx="187.70" cy="417.20" r="1.3"/><circle cx="190.90" cy="416.60" r="1.3"/><circle cx="194.10" cy="416.90" r="1.3"/><circle cx="197.20" cy="410.70" r="1.3"/><circle cx="200.10" cy="408.50" r="1.3"/><circle cx="203.00" cy="418.10" r="1.3"/><circle cx="206.20" cy="419.50" r="1.3"/><circle cx="209.40" cy="423.90" r="1.3"/><circle cx="212.30" cy="433.90" r="1.3"/><circle cx="215.30" cy="437.70" r="1.3"/><circle cx="218.50" cy="442.70" r="1.3"/><circle cx="221.30" cy="428.90" r="1.3"/><circle cx="224.40" cy="440.00" r="1.3"/><circle cx="227.60" cy="438.70" r="1.3"/><circle cx="230.70" cy="438.80" r="1.3"/><circle cx="234.00" cy="428.00" r="1.3"/><circle cx="236.90" cy="428.40" r="1.3"/><circle cx="240.00" cy="438.70" r="1.3"/><circle cx="242.90" cy="438.00" r="1.3"/><circle cx="246.00" cy="432.40" r="1.3"/><circle cx="249.10" cy="430.00" r="1.3"/><circle cx="252.00" cy="438.70" r="1.3"/><circle cx="255.10" cy="445.70" r="1.3"/><circle cx="258.30" cy="454.70" r="1.3"/></g>
<path d="M30.5,353.2L40.7,361.2L50.5,368.3L60.3,375.0L69.6,380.9L78.4,386.0L86.3,390.0L89.6,391.5L92.8,392.7L95.6,393.6L97.9,394.1L99.8,394.3L101.2,394.3L102.6,394.1L104.0,393.8L105.4,393.3L106.8,392.6L109.1,390.9L111.4,388.4L113.8,385.1L116.1,381.1L120.3,373.3L122.1,370.3L123.1,369.2L124.0,368.4L124.9,368.0L125.9,368.0L126.3,368.2L126.8,368.6L127.2,369.1L128.6,371.8L130.0,375.6L134.7,390.3L136.5,395.2L137.9,398.4L139.3,400.9L141.2,403.6L143.1,405.6L145.4,407.2L146.8,407.9L148.2,408.3L156.1,410.0L158.4,410.7L160.3,411.4L162.1,412.2L164.5,413.5L171.9,418.4L174.2,419.8L177.0,421.0L178.4,421.4L179.8,421.6L181.2,421.6L182.6,421.3L184.0,420.7L184.9,420.2L186.3,419.1L187.7,417.8L192.4,412.6L193.8,411.3L194.7,410.7L195.6,410.4L196.1,410.3L197.0,410.5L197.9,410.9L198.9,411.5L199.8,412.4L201.2,414.1L203.1,416.8L208.6,425.7L210.5,428.4L211.9,430.1L213.8,432.0L215.6,433.5L217.5,434.7L219.3,435.6L222.1,436.6L224.9,437.2L228.6,437.8L233.8,438.3L245.4,438.8L262.6,439.0" fill="none" stroke="#f04848" stroke-width="1.0" stroke-opacity="0.8"/>
<path d="M30.50,349.10 V493.00 H262.60" fill="none" stroke="#666" stroke-width="1"/>
<path d="M35.88,493.00 v-1.6 M45.19,493.00 v-1.6 M54.49,493.00 v-1.6 M63.80,493.00 v-1.6 M73.10,493.00 v-1.6 M82.41,493.00 v-1.6 M91.72,493.00 v-1.6 M101.02,493.00 v-1.6 M110.32,493.00 v-1.6 M119.63,493.00 v-1.6 M128.94,493.00 v-1.6 M138.24,493.00 v-1.6 M147.55,493.00 v-1.6 M156.85,493.00 v-1.6 M166.16,493.00 v-1.6 M175.46,493.00 v-1.6 M184.76,493.00 v-1.6 M194.07,493.00 v-1.6 M203.38,493.00 v-1.6 M212.68,493.00 v-1.6 M221.99,493.00 v-1.6 M231.29,493.00 v-1.6 M240.59,493.00 v-1.6 M249.90,493.00 v-1.6 M259.20,493.00 v-1.6 M63.80,493.00 v-2.4 M101.02,493.00 v-2.4 M138.24,493.00 v-2.4 M175.46,493.00 v-2.4 M212.68,493.00 v-2.4 M249.90,493.00 v-2.4 M30.50,490.50 h1.2 M30.50,485.25 h1.2 M30.50,480.00 h1.2 M30.50,474.75 h1.2 M30.50,469.50 h1.2 M30.50,464.25 h1.2 M30.50,459.00 h1.2 M30.50,453.75 h1.2 M30.50,448.50 h1.2 M30.50,443.25 h1.2 M30.50,438.00 h1.2 M30.50,432.75 h1.2 M30.50,427.50 h1.2 M30.50,422.25 h1.2 M30.50,417.00 h1.2 M30.50,411.75 h1.2 M30.50,406.50 h1.2 M30.50,401.25 h1.2 M30.50,396.00 h1.2 M30.50,390.75 h1.2 M30.50,385.50 h1.2 M30.50,380.25 h1.2 M30.50,375.00 h1.2 M30.50,369.75 h1.2 M30.50,364.50 h1.2 M30.50,359.25 h1.2 M30.50,354.00 h1.2 M30.50,490.50 h2.0 M30.50,469.50 h2.0 M30.50,448.50 h2.0 M30.50,427.50 h2.0 M30.50,406.50 h2.0 M30.50,385.50 h2.0 M30.50,364.50 h2.0" fill="none" stroke="#666" stroke-width="0.7"/>
<g class="t" font-size="9.6"><text x="63.80" y="503.60" text-anchor="middle">700</text><text x="101.02" y="503.60" text-anchor="middle">720</text><text x="138.24" y="503.60" text-anchor="middle">740</text><text x="175.46" y="503.60" text-anchor="middle">760</text><text x="212.68" y="503.60" text-anchor="middle">780</text><text x="249.90" y="503.60" text-anchor="middle">800</text><text x="29.50" y="493.80" text-anchor="end">0</text><text x="29.50" y="472.80" text-anchor="end">20</text><text x="29.50" y="451.80" text-anchor="end">40</text><text x="29.50" y="430.80" text-anchor="end">60</text><text x="29.50" y="409.80" text-anchor="end">80</text><text x="29.50" y="388.80" text-anchor="end">100</text><text x="29.50" y="367.80" text-anchor="end">120</text></g>
<text class="t" x="146.50" y="518.10" text-anchor="middle" font-size="10.6">Raman shift, cm<tspan dy="-3.8" font-size="7.4">−1</tspan></text>
<text class="t" transform="translate(11.80,421.05) rotate(-90)" text-anchor="middle" font-size="11.0">Intensity, counts</text>
<text class="t" x="50.00" y="362.60" font-size="14.6">e</text>
<path d="M322.5,482.8L545.0,482.8" fill="none" stroke="#e2d27a" stroke-width="0.8" stroke-opacity="1.0" stroke-dasharray="1,0.7"/>
<path d="M322.5,482.8L364.5,482.8L370.6,482.7L373.6,482.5L374.9,482.1L375.5,481.7L375.9,481.2L376.7,479.9L378.2,476.3L378.5,475.8L378.8,475.6L379.1,475.7L379.4,476.2L381.0,480.1L381.4,480.9L382.0,481.7L382.6,482.1L383.4,482.4L386.0,482.6L404.7,482.8L545.0,482.8" fill="none" stroke="#93b3e3" stroke-width="0.8" stroke-opacity="1.0" stroke-dasharray="1,0.7"/>
<path d="M322.5,482.8L365.7,482.8L376.1,482.6L378.0,482.3L379.5,481.8L380.8,480.9L383.4,478.9L384.1,478.5L384.7,478.4L385.3,478.5L386.0,478.8L388.9,481.1L390.3,482.0L392.3,482.5L395.1,482.7L416.9,482.8L545.0,482.8" fill="none" stroke="#f7c27a" stroke-width="0.8" stroke-opacity="1.0" stroke-dasharray="1,0.7"/>
<path d="M322.5,482.8L371.2,482.6L379.9,482.2L382.8,482.0L384.7,481.6L386.0,481.2L387.2,480.4L388.1,479.6L389.0,478.3L389.7,476.8L390.6,474.5L393.3,466.1L393.9,464.8L394.5,464.3L394.8,464.4L395.2,465.5L397.3,475.4L397.9,477.5L398.7,479.4L399.4,480.6L400.4,481.4L401.8,481.9L403.7,482.2L410.2,482.6L423.7,482.7L545.0,482.8" fill="none" stroke="#afd07a" stroke-width="0.8" stroke-opacity="1.0" stroke-dasharray="1,0.7"/>
<path d="M322.5,479.6L348.3,479.1L368.2,478.4L382.9,477.6L393.1,476.6L396.7,476.1L399.8,475.4L402.2,474.7L404.5,473.8L406.5,472.7L408.3,471.5L410.9,469.2L412.3,467.8L412.5,468.2L413.2,469.0L416.9,472.4L419.2,474.0L421.6,475.3L424.3,476.3L427.4,477.1L431.2,477.8L435.9,478.3L442.1,478.8L449.9,479.3L471.1,479.9L502.0,480.5L545.0,480.9" fill="none" stroke="#f7a88e" stroke-width="0.9" stroke-opacity="1.0" stroke-dasharray="1,0.7"/>
<path d="M324.4,483.2L338.2,476.9L351.9,470.3L365.6,463.7L379.7,456.6L393.4,449.5L407.1,442.3L434.5,427.3L461.9,411.5L475.6,403.4L489.8,394.8L517.6,377.3L545.0,359.4" fill="none" stroke="#9a9a9a" stroke-width="0.8" stroke-opacity="1.0" stroke-dasharray="1,0.7"/>
<g fill="#2a5db0"><circle cx="317.4" cy="485.7" r="1.15"/><circle cx="318.2" cy="480.9" r="1.15"/><circle cx="319.0" cy="482.1" r="1.15"/><circle cx="319.7" cy="484.1" r="1.15"/><circle cx="320.5" cy="488.9" r="1.15"/><circle cx="321.3" cy="477.1" r="1.15"/><circle cx="322.1" cy="484.2" r="1.15"/><circle cx="322.9" cy="483.3" r="1.15"/><circle cx="323.7" cy="480.0" r="1.15"/><circle cx="324.4" cy="479.8" r="1.15"/><circle cx="325.2" cy="478.8" r="1.15"/><circle cx="326.0" cy="479.9" r="1.15"/><circle cx="366.8" cy="462.5" r="1.15"/><circle cx="367.4" cy="455.8" r="1.15"/><circle cx="368.0" cy="460.2" r="1.15"/><circle cx="368.6" cy="456.8" r="1.15"/><circle cx="369.3" cy="455.5" r="1.15"/><circle cx="369.9" cy="453.5" r="1.15"/><circle cx="370.5" cy="456.9" r="1.15"/><circle cx="371.2" cy="456.8" r="1.15"/><circle cx="371.8" cy="456.2" r="1.15"/><circle cx="372.4" cy="460.1" r="1.15"/><circle cx="373.0" cy="456.8" r="1.15"/><circle cx="373.7" cy="457.0" r="1.15"/><circle cx="374.3" cy="456.9" r="1.15"/><circle cx="374.9" cy="452.7" r="1.15"/><circle cx="375.5" cy="453.2" r="1.15"/><circle cx="376.2" cy="446.8" r="1.15"/><circle cx="376.8" cy="445.5" r="1.15"/><circle cx="377.4" cy="452.5" r="1.15"/><circle cx="378.0" cy="445.0" r="1.15"/><circle cx="378.7" cy="446.6" r="1.15"/><circle cx="379.3" cy="442.2" r="1.15"/><circle cx="379.9" cy="443.9" r="1.15"/><circle cx="380.6" cy="442.7" r="1.15"/><circle cx="381.2" cy="444.8" r="1.15"/><circle cx="381.8" cy="443.6" r="1.15"/><circle cx="382.4" cy="446.0" r="1.15"/><circle cx="383.1" cy="451.3" r="1.15"/><circle cx="383.7" cy="447.0" r="1.15"/><circle cx="384.3" cy="445.5" r="1.15"/><circle cx="384.9" cy="444.0" r="1.15"/><circle cx="385.6" cy="445.1" r="1.15"/><circle cx="386.2" cy="437.7" r="1.15"/><circle cx="386.8" cy="442.3" r="1.15"/><circle cx="387.5" cy="438.1" r="1.15"/><circle cx="388.1" cy="442.0" r="1.15"/><circle cx="388.7" cy="435.9" r="1.15"/><circle cx="389.3" cy="442.6" r="1.15"/><circle cx="390.0" cy="436.3" r="1.15"/><circle cx="390.6" cy="439.8" r="1.15"/><circle cx="391.2" cy="432.9" r="1.15"/><circle cx="391.8" cy="427.6" r="1.15"/><circle cx="392.5" cy="433.8" r="1.15"/><circle cx="393.1" cy="429.5" r="1.15"/><circle cx="393.7" cy="424.6" r="1.15"/><circle cx="394.3" cy="424.5" r="1.15"/><circle cx="395.0" cy="427.7" r="1.15"/><circle cx="395.6" cy="422.7" r="1.15"/><circle cx="396.2" cy="428.5" r="1.15"/><circle cx="396.9" cy="427.9" r="1.15"/><circle cx="397.5" cy="432.8" r="1.15"/><circle cx="398.1" cy="438.4" r="1.15"/><circle cx="398.7" cy="437.6" r="1.15"/><circle cx="399.4" cy="433.0" r="1.15"/><circle cx="400.0" cy="440.6" r="1.15"/><circle cx="400.6" cy="438.0" r="1.15"/><circle cx="401.2" cy="434.9" r="1.15"/><circle cx="401.9" cy="433.4" r="1.15"/><circle cx="402.5" cy="433.5" r="1.15"/><circle cx="403.1" cy="439.2" r="1.15"/><circle cx="403.7" cy="429.2" r="1.15"/><circle cx="404.4" cy="434.7" r="1.15"/><circle cx="405.0" cy="433.6" r="1.15"/><circle cx="405.6" cy="433.1" r="1.15"/><circle cx="406.3" cy="433.0" r="1.15"/><circle cx="406.9" cy="434.3" r="1.15"/><circle cx="407.5" cy="431.8" r="1.15"/><circle cx="408.1" cy="426.6" r="1.15"/><circle cx="408.8" cy="433.0" r="1.15"/><circle cx="409.4" cy="435.1" r="1.15"/><circle cx="410.0" cy="426.3" r="1.15"/><circle cx="410.6" cy="425.9" r="1.15"/><circle cx="411.3" cy="424.0" r="1.15"/><circle cx="411.9" cy="420.2" r="1.15"/><circle cx="412.5" cy="426.6" r="1.15"/><circle cx="413.2" cy="424.6" r="1.15"/><circle cx="413.8" cy="424.0" r="1.15"/><circle cx="414.4" cy="422.3" r="1.15"/><circle cx="415.0" cy="423.1" r="1.15"/><circle cx="415.7" cy="428.3" r="1.15"/><circle cx="416.3" cy="430.0" r="1.15"/><circle cx="416.9" cy="427.2" r="1.15"/><circle cx="417.5" cy="430.9" r="1.15"/><circle cx="418.2" cy="423.7" r="1.15"/><circle cx="418.8" cy="427.9" r="1.15"/><circle cx="419.4" cy="427.8" r="1.15"/><circle cx="420.0" cy="429.3" r="1.15"/><circle cx="420.7" cy="422.8" r="1.15"/><circle cx="521.1" cy="375.9" r="1.15"/><circle cx="521.8" cy="377.1" r="1.15"/><circle cx="522.4" cy="373.7" r="1.15"/><circle cx="523.0" cy="374.9" r="1.15"/><circle cx="523.6" cy="372.4" r="1.15"/><circle cx="524.3" cy="369.8" r="1.15"/><circle cx="524.9" cy="373.4" r="1.15"/><circle cx="525.5" cy="370.6" r="1.15"/><circle cx="526.1" cy="370.0" r="1.15"/><circle cx="526.8" cy="367.6" r="1.15"/><circle cx="527.4" cy="368.4" r="1.15"/><circle cx="528.0" cy="369.2" r="1.15"/><circle cx="528.7" cy="370.4" r="1.15"/><circle cx="529.3" cy="367.2" r="1.15"/><circle cx="529.9" cy="370.1" r="1.15"/><circle cx="530.5" cy="364.9" r="1.15"/><circle cx="531.2" cy="365.8" r="1.15"/><circle cx="531.8" cy="363.8" r="1.15"/><circle cx="532.4" cy="366.0" r="1.15"/><circle cx="533.0" cy="366.1" r="1.15"/><circle cx="533.7" cy="365.7" r="1.15"/><circle cx="534.3" cy="359.6" r="1.15"/><circle cx="534.9" cy="362.5" r="1.15"/><circle cx="535.6" cy="361.9" r="1.15"/><circle cx="536.2" cy="365.4" r="1.15"/><circle cx="536.8" cy="360.0" r="1.15"/><circle cx="537.4" cy="368.5" r="1.15"/><circle cx="538.1" cy="354.9" r="1.15"/><circle cx="538.7" cy="358.5" r="1.15"/><circle cx="539.3" cy="357.1" r="1.15"/><circle cx="539.9" cy="360.3" r="1.15"/><circle cx="540.6" cy="358.8" r="1.15"/><circle cx="541.2" cy="353.5" r="1.15"/><circle cx="541.8" cy="355.0" r="1.15"/></g>
<path d="M324.4,479.9L340.9,472.0L355.9,464.3L368.0,457.8L371.8,455.5L374.0,454.0L375.2,452.8L376.1,451.3L376.8,449.4L378.2,445.0L378.7,443.8L379.0,443.6L379.3,443.7L380.8,445.4L381.3,445.7L381.8,445.6L382.6,445.1L384.6,442.9L385.5,442.4L387.6,441.5L388.2,441.0L388.8,440.3L389.6,438.7L390.5,436.4L393.6,425.5L394.2,424.2L394.6,423.8L394.9,424.0L395.4,425.0L397.0,432.0L397.9,434.8L398.8,436.3L399.4,436.7L399.9,436.9L401.0,436.6L402.4,435.8L404.1,434.5L405.8,432.8L407.6,430.9L409.4,428.6L411.4,425.7L412.2,424.3L412.7,424.9L413.3,425.2L416.7,426.4L418.9,426.8L421.1,426.9L423.6,426.5L426.4,425.8L429.7,424.7L433.6,423.0L442.5,418.8L453.8,412.9L467.2,405.5L482.1,396.9L497.2,387.8L513.0,378.1L528.8,368.0L545.0,357.5" fill="none" stroke="#f04848" stroke-width="1.0" stroke-opacity="0.8"/>
<path d="M312.50,349.40 V492.50 H544.60" fill="none" stroke="#666" stroke-width="1"/>
<path d="M318.96,492.50 v-1.6 M326.80,492.50 v-1.6 M334.64,492.50 v-1.6 M342.47,492.50 v-1.6 M350.31,492.50 v-1.6 M358.14,492.50 v-1.6 M365.98,492.50 v-1.6 M373.82,492.50 v-1.6 M381.65,492.50 v-1.6 M389.49,492.50 v-1.6 M397.32,492.50 v-1.6 M405.16,492.50 v-1.6 M413.00,492.50 v-1.6 M420.83,492.50 v-1.6 M428.67,492.50 v-1.6 M436.50,492.50 v-1.6 M444.34,492.50 v-1.6 M452.18,492.50 v-1.6 M460.01,492.50 v-1.6 M467.85,492.50 v-1.6 M475.68,492.50 v-1.6 M483.52,492.50 v-1.6 M491.36,492.50 v-1.6 M499.19,492.50 v-1.6 M507.03,492.50 v-1.6 M514.86,492.50 v-1.6 M522.70,492.50 v-1.6 M530.54,492.50 v-1.6 M538.37,492.50 v-1.6 M326.80,492.50 v-2.4 M365.98,492.50 v-2.4 M405.16,492.50 v-2.4 M444.34,492.50 v-2.4 M483.52,492.50 v-2.4 M522.70,492.50 v-2.4 M312.50,488.78 h1.2 M312.50,482.80 h1.2 M312.50,476.82 h1.2 M312.50,470.84 h1.2 M312.50,464.86 h1.2 M312.50,458.88 h1.2 M312.50,452.90 h1.2 M312.50,446.92 h1.2 M312.50,440.94 h1.2 M312.50,434.96 h1.2 M312.50,428.98 h1.2 M312.50,423.00 h1.2 M312.50,417.02 h1.2 M312.50,411.04 h1.2 M312.50,405.06 h1.2 M312.50,399.08 h1.2 M312.50,393.10 h1.2 M312.50,387.12 h1.2 M312.50,381.14 h1.2 M312.50,375.16 h1.2 M312.50,369.18 h1.2 M312.50,363.20 h1.2 M312.50,357.22 h1.2 M312.50,482.80 h2.0 M312.50,452.90 h2.0 M312.50,423.00 h2.0 M312.50,393.10 h2.0 M312.50,363.20 h2.0" fill="none" stroke="#666" stroke-width="0.7"/>
<g class="t" font-size="9.6"><text x="326.80" y="503.10" text-anchor="middle">1200</text><text x="365.98" y="503.10" text-anchor="middle">1300</text><text x="405.16" y="503.10" text-anchor="middle">1400</text><text x="444.34" y="503.10" text-anchor="middle">1500</text><text x="483.52" y="503.10" text-anchor="middle">1600</text><text x="522.70" y="503.10" text-anchor="middle">1700</text><text x="311.50" y="486.10" text-anchor="end">0</text><text x="311.50" y="456.20" text-anchor="end">50</text><text x="311.50" y="426.30" text-anchor="end">100</text><text x="311.50" y="396.40" text-anchor="end">150</text><text x="311.50" y="366.50" text-anchor="end">200</text></g>
<text class="t" x="428.60" y="517.90" text-anchor="middle" font-size="10.6">Raman shift, cm<tspan dy="-3.8" font-size="7.4">−1</tspan></text>
<text class="t" transform="translate(294.50,421.20) rotate(-90)" text-anchor="middle" font-size="11.0">Intensity, counts</text>
<text class="t" x="321.80" y="361.90" font-size="14.6">f</text>
</svg>
</body></html>
